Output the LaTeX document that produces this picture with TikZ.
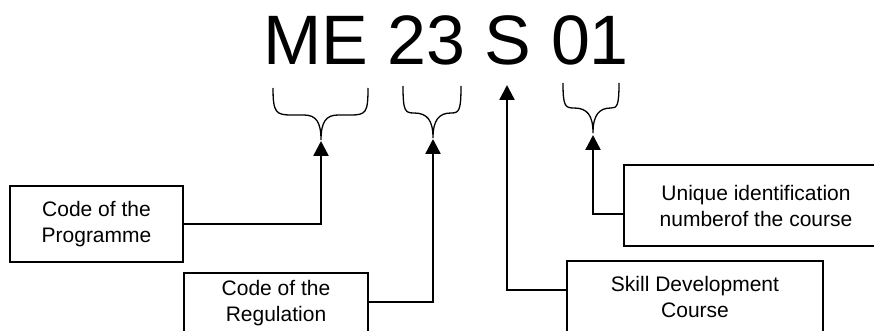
\documentclass[tikz,border=0pt]{standalone}
\usepackage{fontspec}
\setmainfont{Liberation Sans}
\usetikzlibrary{arrows.meta}
\tikzset{
  box/.style={draw, line width=1.6pt, inner sep=0pt, align=center, font=\fontsize{21}{26}\selectfont},
  conn/.style={line width=2.4pt, -{Triangle[length=15pt,width=15pt]}},
  brace/.style={line width=1.3pt}
}
\begin{document}
\begin{tikzpicture}[x=1pt,y=-1pt]
\useasboundingbox (0,0) rectangle (874,331);
\clip (0,0) rectangle (874,331);
% title
\node[anchor=base west, inner sep=0pt, font=\fontsize{70}{80}\selectfont] (code) at (263,65) {ME 23 S 01};
% braces
\draw[brace] (273,88) .. controls (273,113) and (276,115) .. (292,115) -- (304,115)
  .. controls (316,115) and (321,122) .. (321,140)
  .. controls (321,122) and (326,115) .. (338,115) -- (350,115)
  .. controls (366,115) and (368,113) .. (368,88);
\draw[brace] (403,86) .. controls (403,111) and (405,113) .. (414,113)
  .. controls (427,113) and (433,120) .. (433,138)
  .. controls (433,120) and (439,113) .. (451,113)
  .. controls (459,113) and (461,111) .. (461,86);
\draw[brace] (563,83) .. controls (563,106) and (565,108) .. (574,108)
  .. controls (587,108) and (593,115) .. (593,133)
  .. controls (593,115) and (599,108) .. (611,108)
  .. controls (617,108) and (619,106) .. (619,83);
% arrow targets
\coordinate (t1) at (321,141);
\coordinate (t2) at (433,139);
\coordinate (t3) at (507,85);
\coordinate (t4) at (593,135);
% boxes
\node[box, minimum width=173pt, minimum height=76pt] (prog) at (96.5,224) {Code of the\\Programme};
\node[box, minimum width=184pt, minimum height=61pt] (reg) at (276,303.5) {Code of the\\Regulation};
\node[box, minimum width=264pt, minimum height=81pt] (uniq) at (756,205.5) {Unique identification\\numberof the course};
\node[box, minimum width=256pt, minimum height=72pt] (skill) at (695,297) {Skill Development\\Course};
% connectors
\draw[conn] (prog.east) -| (t1);
\draw[conn] (reg.east) ++(0,-1.5) -| (t2);
\draw[conn] (skill.north west) ++(0,30) -| (t3);
\draw[conn] (uniq.north west) ++(0,50) -| (t4);
\end{tikzpicture}
\end{document}
